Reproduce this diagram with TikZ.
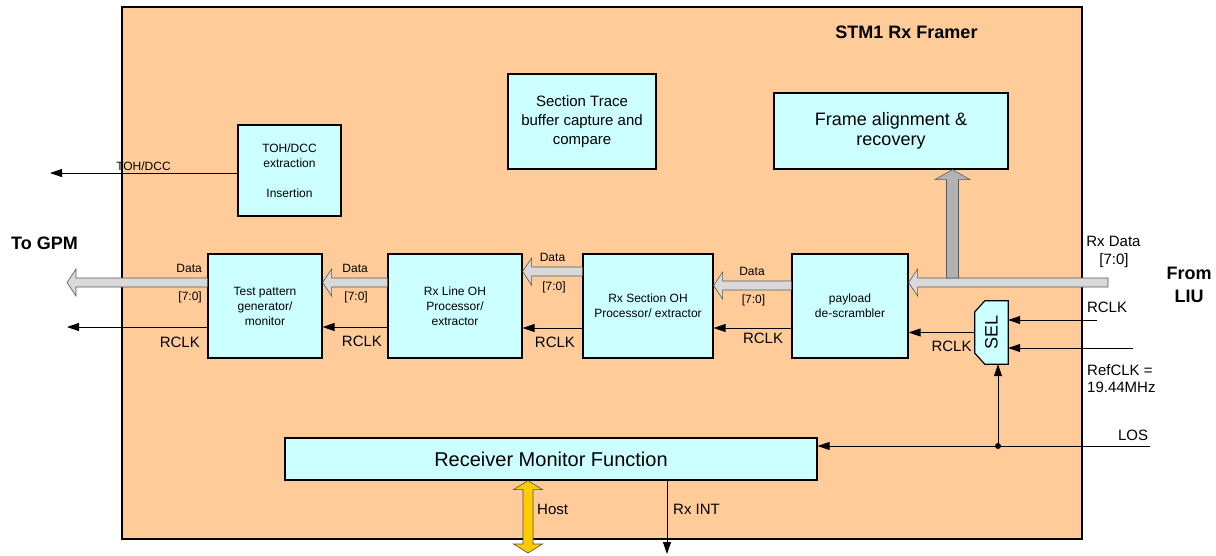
\documentclass[tikz,border=0pt]{standalone}
\usepackage{fontspec}
\setmainfont{Liberation Sans}
\usetikzlibrary{calc,arrows.meta}
\definecolor{framec}{HTML}{FFCC99}
\definecolor{boxc}{HTML}{CCFFFF}
\definecolor{busc}{HTML}{D9D9D9}
\definecolor{upc}{HTML}{B2B2B2}
\definecolor{hostc}{HTML}{FFCC00}
\newcommand\hbusarrow[2]{%
  \filldraw[bus] let \p1=(#1), \p2=(#2) in
    (\x1,\y1+4.5pt) -- (\x2+9pt,\y1+4.5pt) -- (\x2+9pt,\y1+13.5pt) -- (\x2,\y1)
    -- (\x2+9pt,\y1-13.5pt) -- (\x2+9pt,\y1-4.5pt) -- (\x1,\y1-4.5pt) -- cycle;}
\begin{document}
\begin{tikzpicture}[x=1pt,y=-1pt,
  blk/.style={draw, line width=1.2pt, fill=boxc, inner sep=0pt, align=center, font=\fontsize{12}{15}\selectfont},
  sig/.style={line width=0.8pt, -{Triangle[length=12pt,width=8pt]}},
  lbl/.style={inner sep=0pt, font=\fontsize{12}{15}\selectfont},
  lblb/.style={inner sep=0pt, font=\fontsize{15}{17}\selectfont},
  bold/.style={inner sep=0pt, font=\bfseries\fontsize{18}{23}\selectfont, align=center},
  bus/.style={fill=busc, draw=black!65, line width=0.6pt},
]
\useasboundingbox (0,0) rectangle (1216,555);

% frame
\node[draw, line width=1.5pt, fill=framec, minimum width=960pt, minimum height=532pt, inner sep=0pt] (frm) at (602,273) {};
\node[bold] (ttl) at (906.5,32) {STM1 Rx Framer};
\node[bold, anchor=west] (gpm) at (11,243) {To GPM};
\node[bold] (liu) at (1189,284.5) {From\\LIU};

% blocks
\node[blk, minimum width=103pt, minimum height=91pt] (toh) at (289.5,170.5) {TOH/DCC\\extraction\\[15pt]Insertion};
\node[blk, minimum width=148pt, minimum height=95pt, font=\fontsize{15}{19}\selectfont] (st) at (582,121.5) {Section Trace\\buffer capture and\\compare};
\node[blk, minimum width=234pt, minimum height=76pt, font=\fontsize{18}{20}\selectfont] (fab) at (891,131) {Frame alignment \&\\recovery};
\node[blk, minimum width=114pt, minimum height=104pt] (tp) at (265,306) {Test pattern\\generator/\\monitor};
\node[blk, minimum width=134pt, minimum height=104pt] (lo) at (455,306) {Rx Line OH\\Processor/\\extractor};
\node[blk, minimum width=130pt, minimum height=104pt] (so) at (648,306) {Rx Section OH\\Processor/ extractor};
\node[blk, minimum width=116pt, minimum height=104pt] (pay) at (850,306) {payload\\de-scrambler};
\node[blk, minimum width=532pt, minimum height=42pt, font=\fontsize{20}{22}\selectfont] (rmf) at (551,459) {Receiver Monitor Function};

% SEL
\node[inner sep=0pt, minimum width=33pt, minimum height=63pt] (sel) at (991.5,332.5) {};
\filldraw[fill=boxc, line width=1.2pt] ($(sel.north west)+(10,0)$) -- (sel.north east) -- (sel.south east)
  -- ($(sel.south west)+(10,0)$) -- ($(sel.south west)+(0,-11)$) -- ($(sel.north west)+(0,11)$) -- cycle;
\node[rotate=90, inner sep=0pt, font=\fontsize{18}{20}\selectfont] (seltxt) at (sel) {SEL};

% free ends
\coordinate (outd) at (67,282.5);
\coordinate (outc) at (67,327);
\coordinate (tohend) at (50,173);
\coordinate (rxd) at (1108,282.5);
\coordinate (upb) at (952.5,278);
\coordinate (rcin) at (1097,320);
\coordinate (refin) at (1133,348);
\coordinate (losin) at (1150,446);
\coordinate (losdot) at (998,446);
\coordinate (ri) at (667,554);
\coordinate (hb) at (528,553);

% data buses
\hbusarrow{$(tp.west)+(0,-23.5)$}{outd}
\hbusarrow{$(lo.west)+(0,-23.5)$}{tp.east}
\hbusarrow{$(so.west)+(0,-34.5)$}{lo.east}
\hbusarrow{$(pay.west)+(0,-20.5)$}{so.east}
\hbusarrow{rxd}{pay.east}

% up arrow to frame alignment
\filldraw[bus, fill=upc] let \p1=(upb), \p2=(fab.south -| upb) in
  (\x1-6pt,\y1) -- (\x1-6pt,\y2-10pt) -- (\x1-17.5pt,\y2-10pt) -- (\x1,\y2)
  -- (\x1+17.5pt,\y2-10pt) -- (\x1+6pt,\y2-10pt) -- (\x1+6pt,\y1) -- cycle;

% host double arrow
\coordinate (ht) at ($(rmf.south)+(-23,0)$);
\filldraw[fill=hostc, draw=black!70, line width=0.6pt] let \p1=(ht), \p2=(hb) in
  (\x1,\y1) -- (\x1+14.5pt,\y1-9pt) -- (\x1+5pt,\y1-9pt) -- (\x1+5pt,\y2+9pt) -- (\x1+14.5pt,\y2+9pt)
  -- (\x1,\y2) -- (\x1-14.5pt,\y2+9pt) -- (\x1-5pt,\y2+9pt) -- (\x1-5pt,\y1-9pt) -- (\x1-14.5pt,\y1-9pt) -- cycle;

% signals
\draw[sig] ($(toh.west)+(0,2.5)$) -- (tohend);
\draw[sig] ($(pay.west)+(0,22)$) -- ($(so.east)+(0,22)$);
\draw[sig] ($(so.west)+(0,22)$) -- ($(lo.east)+(0,22)$);
\draw[sig] ($(lo.west)+(0,21)$) -- ($(tp.east)+(0,21)$);
\draw[sig] ($(tp.west)+(0,21)$) -- (outc);
\draw[sig] (sel.west) -- (sel.west -| pay.east);
\draw[sig] (rcin) -- (rcin -| sel.east);
\draw[sig] (refin) -- (refin -| sel.east);
\draw[sig] (losin) -- (losin -| rmf.east);
\fill (losdot) circle (3pt);
\draw[sig] (losdot) -- (losdot |- sel.south);
\draw[sig] (rmf.south -| ri) -- (ri);

% labels
\node[lbl] (l1) at (143.5,166) {TOH/DCC};
\node[lbl, anchor=east] (l2) at (202,268) {Data};
\node[lbl, anchor=east] (l3) at (202,297) {[7:0]};
\node[lblb, anchor=east] (l4) at (200,342) {RCLK};
\node[lbl, anchor=east] (l5) at (368,268) {Data};
\node[lbl, anchor=east] (l6) at (368,297) {[7:0]};
\node[lblb] (l7) at (362,341) {RCLK};
\node[lbl] (l8) at (552.5,257) {Data};
\node[lbl] (l9) at (554,287) {[7:0]};
\node[lblb] (l10) at (555,342) {RCLK};
\node[lbl] (l11) at (752,271) {Data};
\node[lbl] (l12) at (753.5,300) {[7:0]};
\node[lblb] (l13) at (763,338) {RCLK};
\node[lblb] (l14) at (951.5,346) {RCLK};
\node[lblb] (l15) at (1113.5,241) {Rx Data};
\node[lblb] (l16) at (1114,261) {[7:0]};
\node[lblb] (l17) at (1107,307) {RCLK};
\node[lblb, anchor=west, align=left] (l18) at (1087,378.5) {RefCLK =\\19.44MHz};
\node[lblb] (l19) at (1133,435) {LOS};
\node[lblb, anchor=west] (l20) at (537,509) {Host};
\node[lblb, anchor=west] (l21) at (673,509) {Rx INT};
\end{tikzpicture}
\end{document}
